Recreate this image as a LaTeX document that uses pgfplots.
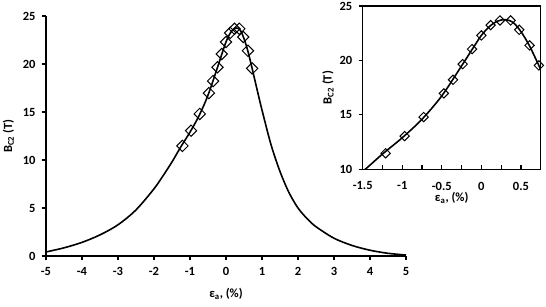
\documentclass[border=0pt]{standalone}
\usepackage{pgfplots}
\pgfplotsset{compat=1.18}
\usepackage{pgfplotstable}
\usepackage{fontspec}
\setmainfont{Carlito}[BoldFont={Carlito Bold}]
\pgfplotstableread{
x y
-5 0.42
-4.5 0.85
-4 1.42
-3.5 2.2
-3 3.25
-2.5 4.8
-2 7.0
-1.75 8.35
-1.5 9.8
-1.25 11.4
-1 12.9
-0.75 14.6
-0.5 16.75
-0.25 19.5
-0.1 21.2
0 22.3
0.1 23.1
0.2 23.6
0.3 23.75
0.4 23.5
0.5 22.65
0.6 21.45
0.7 19.95
0.8 18.35
0.9 16.75
1.0 15.2
1.25 11.6
1.5 8.8
1.75 6.6
2 5.0
2.25 3.9
2.5 3.05
3 1.85
3.5 1.1
4 0.6
4.5 0.28
5 0.1
}\curve
\pgfplotstableread{
x y
-1.21 11.47
-0.97 13.05
-0.73 14.8
-0.475 16.97
-0.358 18.22
-0.236 19.66
-0.118 21.04
0 22.29
0.117 23.24
0.235 23.67
0.37 23.67
0.479 22.81
0.609 21.38
0.727 19.54
}\pts
\begin{document}
\begin{tikzpicture}[x=1pt,y=1pt]
\useasboundingbox (0,0) rectangle (546,307);
\begin{axis}[
  at={(46pt,51pt)}, anchor=south west,
  width=360pt, height=240pt, scale only axis,
  xmin=-5, xmax=5, ymin=0, ymax=25,
  axis lines*=left,
  axis line style={line width=1.2pt},
  xtick={-5,...,5}, ytick={0,5,...,25},
  tick align=outside, major tick length=4pt,
  tick style={line width=1.2pt, black},
  /pgf/number format/assume math mode=true,
  ticklabel style={font=\fontsize{12.5}{14}\selectfont\bfseries},
  xticklabel style={yshift=-4pt},
  yticklabel style={xshift=-3pt},
  label style={font=\fontsize{12.5}{14}\selectfont\bfseries},
  xlabel={ε\textsubscript{a}, (\%)},
  ylabel={B\textsubscript{C2} (T)},
  xlabel style={yshift=-6pt},
  ylabel style={yshift=2pt},
  clip=false,
]
\addplot[black, line width=1.6pt, smooth, no markers] table[x=x,y=y]{\curve};
\addplot[only marks, mark=square, mark size=4pt, mark options={rotate=45, line width=1pt, fill=none, draw=black}] table[x=x,y=y]{\pts};
\end{axis}
\begin{axis}[
  at={(362.7pt,137.7pt)}, anchor=south west,
  width=178pt, height=163.3pt, scale only axis,
  xmin=-1.5, xmax=0.75, ymin=10, ymax=25,
  axis background/.style={fill=white},
  axis line style={line width=1.2pt},
  xtick={-1.5,-1,-0.5,0,0.5}, ytick={10,15,20,25},
  minor xtick={-1.25,-0.75,-0.25,0.25},
  xtick pos=bottom, ytick pos=left,
  xtick align=inside, ytick align=outside,
  major tick length=4pt, minor tick length=4pt,
  tick style={line width=1.2pt, black},
  /pgf/number format/assume math mode=true,
  ticklabel style={font=\fontsize{12.5}{14}\selectfont\bfseries},
  xticklabel style={yshift=-9pt},
  yticklabel style={xshift=-3pt},
  label style={font=\fontsize{12.5}{14}\selectfont\bfseries},
  xlabel={ε\textsubscript{a}, (\%)},
  ylabel={B\textsubscript{C2} (T)},
  xlabel style={yshift=5pt},
  ylabel style={yshift=-1pt},
]
\addplot[black, line width=1.6pt, smooth, no markers] table[x=x,y=y]{\curve};
\addplot[only marks, mark=square, mark size=3.3pt, mark options={rotate=45, line width=1pt, fill=none, draw=black}] table[x=x,y=y]{\pts};
\end{axis}
\end{tikzpicture}
\end{document}
